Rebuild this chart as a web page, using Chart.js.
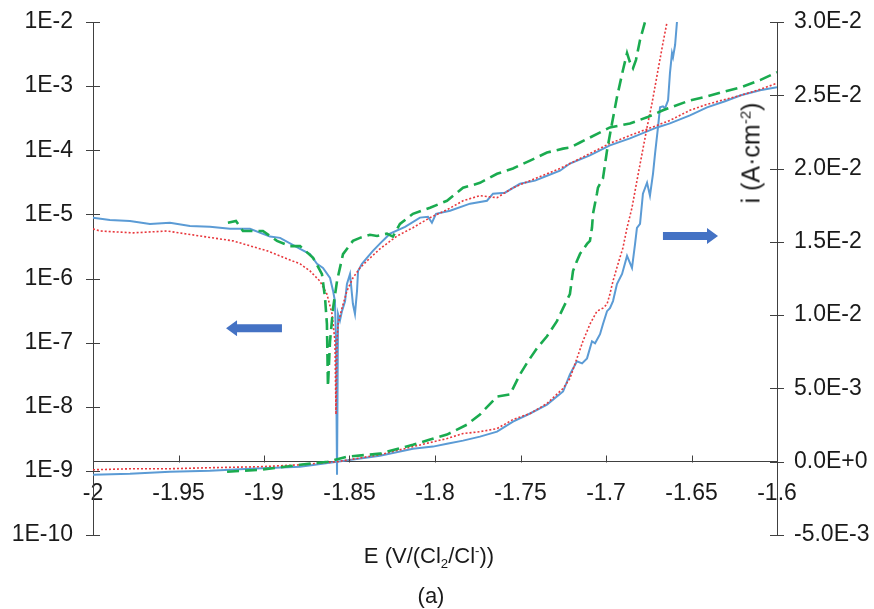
<!DOCTYPE html>
<html lang="en">
<head>
  <meta charset="UTF-8">
  <title>Polarization curves</title>
  <style>
    body { margin: 0; background: #fff; font-family: "Liberation Sans", Arial, sans-serif; color: #1a1a1a; }
    #wrap { position: relative; width: 874px; height: 609px; }
    .lbl { position: absolute; white-space: nowrap; font-size: 22px; line-height: 1; }
    .lbl sub, .lbl sup { font-size: 0.6em; line-height: 0; }
    #xTitle { left: 429px; top: 545px; transform: translateX(-50%); }
    #caption { left: 431px; top: 585px; transform: translateX(-50%); }
    #yTitle { left: 751px; top: 153px; font-size: 25px; transform: translate(-50%, -50%) rotate(-90deg); }
  </style>
  <script src="https://cdn.jsdelivr.net/npm/chart.js"></script>
</head>
<body>

<div id="wrap">
  <canvas id="chart"></canvas>
  <div class="lbl" id="xTitle">E (V/(Cl<sub>2</sub>/Cl<sup>-</sup>))</div>
  <div class="lbl" id="caption">(a)</div>
  <div class="lbl" id="yTitle">i (A·cm<sup>-2</sup>)</div>
</div>

<script>
  // --- data ---
  // log |i| curves (left axis)
  const eBlueLog = [-2.0000, -1.9901, -1.9784, -1.9667, -1.9550, -1.9433, -1.9316, -1.9199, -1.9082, -1.8965, -1.8906, -1.8789, -1.8731, -1.8690, -1.8655, -1.8614, -1.8596, -1.8585, -1.8579, -1.8573, -1.8567, -1.8556, -1.8544, -1.8526, -1.8515, -1.8497, -1.8480, -1.8468, -1.8456, -1.8450, -1.8427, -1.8398, -1.8363, -1.8322, -1.8263, -1.8175, -1.8088, -1.8041, -1.8018, -1.7994, -1.7912, -1.7795, -1.7696, -1.7661, -1.7591, -1.7503, -1.7415, -1.7345, -1.7269, -1.7211, -1.7094, -1.6977, -1.6860, -1.6702, -1.6626, -1.6509, -1.6409, -1.6304, -1.6211, -1.6099, -1.6000];
  const iBlueLog = [8.9e-6, 8.2e-6, 7.9e-6, 7.1e-6, 7.4e-6, 6.6e-6, 6.4e-6, 5.95e-6, 5.95e-6, 4.5e-6, 4.3e-6, 2.9e-6, 2.4e-6, 1.69e-6, 1.46e-6, 1.02e-6, 6.4e-7, 4.4e-7, 1.05e-7, 8.7e-10, 2.8e-7, 2.2e-7, 3.1e-7, 4.4e-7, 8.2e-7, 1.17e-6, 4.0e-7, 2.8e-7, 6.4e-7, 1.31e-6, 1.69e-6, 2.1e-6, 2.7e-6, 3.5e-6, 5.0e-6, 6.4e-6, 8.9e-6, 9.2e-6, 7.4e-6, 1.02e-5, 1.14e-5, 1.47e-5, 1.63e-5, 2.1e-5, 2.18e-5, 3.0e-5, 3.36e-5, 4.0e-5, 4.8e-5, 6.2e-5, 8.3e-5, 1.19e-4, 1.53e-4, 2.27e-4, 2.62e-4, 3.5e-4, 4.67e-4, 5.8e-4, 7.2e-4, 8.6e-4, 9.6e-4];

  const eRedLog = [-2.0000, -1.9959, -1.9766, -1.9567, -1.9374, -1.9181, -1.8982, -1.8789, -1.8731, -1.8673, -1.8632, -1.8602, -1.8585, -1.8579, -1.8573, -1.8567, -1.8544, -1.8515, -1.8480, -1.8439, -1.8398, -1.8322, -1.8222, -1.8129, -1.8029, -1.7930, -1.7836, -1.7737, -1.7637, -1.7544, -1.7444, -1.7345, -1.7269, -1.7211, -1.7094, -1.6977, -1.6860, -1.6702, -1.6626, -1.6509, -1.6409, -1.6304, -1.6211, -1.6099, -1.6000];
  const iRedLog = [5.95e-6, 5.5e-6, 5.15e-6, 5.5e-6, 4.6e-6, 3.86e-6, 2.7e-6, 1.69e-6, 1.31e-6, 9.1e-7, 5.7e-7, 2.8e-7, 1.05e-7, 7.6e-9, 1.05e-7, 1.94e-7, 3.45e-7, 6.4e-7, 1.02e-6, 1.46e-6, 1.88e-6, 2.9e-6, 4.6e-6, 6.2e-6, 8.9e-6, 1.18e-5, 1.63e-5, 1.96e-5, 1.82e-5, 2.6e-5, 3.36e-5, 4.3e-5, 5.2e-5, 6.2e-5, 8.9e-5, 1.28e-4, 1.7e-4, 2.44e-4, 2.92e-4, 4.2e-4, 5.2e-4, 6.2e-4, 7.2e-4, 8.9e-4, 1.11e-3];

  const eGreenLog = [-1.9211, -1.9164, -1.9123, -1.9006, -1.8924, -1.8848, -1.8789, -1.8713, -1.8661, -1.8643, -1.8632, -1.8626, -1.8614, -1.8596, -1.8573, -1.8538, -1.8480, -1.8439, -1.8380, -1.8339, -1.8281, -1.8246, -1.8205, -1.8129, -1.8029, -1.7930, -1.7836, -1.7737, -1.7637, -1.7544, -1.7444, -1.7345, -1.7251, -1.7211, -1.7152, -1.6977, -1.6860, -1.6760, -1.6667, -1.6509, -1.6409, -1.6304, -1.6211, -1.6099, -1.6000];
  const iGreenLog = [7.4e-6, 7.9e-6, 5.5e-6, 5.5e-6, 3.86e-6, 3.2e-6, 3.2e-6, 2.1e-6, 1.17e-6, 5.0e-7, 1.94e-7, 2.07e-8, 1.05e-7, 3.45e-7, 9.1e-7, 2.4e-6, 3.86e-6, 4.3e-6, 4.8e-6, 4.6e-6, 5.0e-6, 4.5e-6, 7.1e-6, 1.02e-5, 1.27e-5, 1.63e-5, 2.6e-5, 3.1e-5, 4.3e-5, 5.2e-5, 6.9e-5, 9.2e-5, 1.06e-4, 1.1e-4, 1.32e-4, 2.27e-4, 2.62e-4, 3.26e-4, 4.2e-4, 6.0e-4, 6.9e-4, 8.3e-4, 9.6e-4, 1.24e-3, 1.65e-3];

  // linear i curves (right axis)
  const eBlueLin = [-2.0000, -1.9784, -1.9550, -1.9316, -1.9082, -1.8789, -1.8573, -1.8322, -1.8129, -1.8012, -1.7930, -1.7836, -1.7737, -1.7637, -1.7544, -1.7444, -1.7345, -1.7251, -1.7211, -1.7170, -1.7140, -1.7111, -1.7082, -1.7064, -1.7035, -1.7018, -1.6994, -1.6977, -1.6959, -1.6936, -1.6906, -1.6877, -1.6848, -1.6830, -1.6819, -1.6801, -1.6784, -1.6760, -1.6743, -1.6725, -1.6713, -1.6696, -1.6684, -1.6667, -1.6655, -1.6637, -1.6626, -1.6614, -1.6608, -1.6596, -1.6585];
  const iBlueLin = [-8.9e-4, -8.2e-4, -6.8e-4, -6.2e-4, -4.8e-4, -3.4e-4, 0, 4.1e-4, 8.9e-4, 1.03e-3, 1.23e-3, 1.44e-3, 1.71e-3, 2.05e-3, 2.74e-3, 3.29e-3, 3.9e-3, 4.79e-3, 5.96e-3, 6.85e-3, 6.71e-3, 7.05e-3, 8.22e-3, 8.08e-3, 8.7e-3, 9.38e-3, 1.027e-2, 1.048e-2, 1.096e-2, 1.212e-2, 1.281e-2, 1.404e-2, 1.322e-2, 1.486e-2, 1.596e-2, 1.623e-2, 1.829e-2, 1.904e-2, 1.815e-2, 1.966e-2, 2.103e-2, 2.281e-2, 2.418e-2, 2.425e-2, 2.411e-2, 2.466e-2, 2.651e-2, 2.788e-2, 2.76e-2, 2.843e-2, 3.0e-2];

  const eRedLin = [-2.0000, -1.9784, -1.9550, -1.9316, -1.9023, -1.8789, -1.8573, -1.8322, -1.8129, -1.7930, -1.7836, -1.7737, -1.7637, -1.7544, -1.7444, -1.7345, -1.7251, -1.7211, -1.7170, -1.7135, -1.7094, -1.7053, -1.7018, -1.6994, -1.6977, -1.6959, -1.6930, -1.6901, -1.6877, -1.6848, -1.6819, -1.6789, -1.6760, -1.6731, -1.6696, -1.6667, -1.6643];
  const iRedLin = [-5.5e-4, -4.8e-4, -4.8e-4, -4.1e-4, -3.4e-4, -2.1e-4, 0, 4.8e-4, 1.03e-3, 1.58e-3, 1.92e-3, 2.05e-3, 2.26e-3, 2.88e-3, 3.29e-3, 3.97e-3, 5.0e-3, 5.68e-3, 7.05e-3, 8.22e-3, 9.38e-3, 1.027e-2, 1.048e-2, 1.075e-2, 1.144e-2, 1.233e-2, 1.349e-2, 1.459e-2, 1.596e-2, 1.733e-2, 1.918e-2, 2.103e-2, 2.281e-2, 2.445e-2, 2.671e-2, 2.856e-2, 3.0e-2];

  const eGreenLin = [-1.9216, -1.9023, -1.8789, -1.8626, -1.8515, -1.8322, -1.8129, -1.8029, -1.7930, -1.7813, -1.7737, -1.7637, -1.7561, -1.7503, -1.7456, -1.7404, -1.7345, -1.7287, -1.7251, -1.7211, -1.7193, -1.7170, -1.7152, -1.7111, -1.7094, -1.7082, -1.7076, -1.7053, -1.7047, -1.7018, -1.6994, -1.6965, -1.6936, -1.6901, -1.6877, -1.6860, -1.6842, -1.6825, -1.6801, -1.6772];
  const iGreenLin = [-6.8e-4, -5.5e-4, -2.1e-4, 0, 3.4e-4, 5.5e-4, 1.16e-3, 1.51e-3, 1.85e-3, 2.53e-3, 3.22e-3, 4.45e-3, 4.59e-3, 5.96e-3, 6.85e-3, 7.74e-3, 8.56e-3, 9.59e-3, 1.048e-2, 1.144e-2, 1.301e-2, 1.37e-2, 1.418e-2, 1.486e-2, 1.507e-2, 1.596e-2, 1.692e-2, 1.829e-2, 1.87e-2, 1.931e-2, 2.123e-2, 2.308e-2, 2.486e-2, 2.671e-2, 2.788e-2, 2.726e-2, 2.685e-2, 2.74e-2, 2.877e-2, 3.0e-2];

  // tick labels
  const xTicks = [-2, -1.95, -1.9, -1.85, -1.8, -1.75, -1.7, -1.65, -1.6];
  const logTicks = [1e-10, 1e-9, 1e-8, 1e-7, 1e-6, 1e-5, 1e-4, 1e-3, 1e-2];
  const linTicks = [-0.005, 0, 0.005, 0.01, 0.015, 0.02, 0.025, 0.03];

  // arrows [E start, E end, axis, value]
  const arrows = [
    [-1.8895, -1.9222, 'yL', 1.68e-7],
    [-1.6667, -1.6345, 'yR', 0.0154]
  ];

  const BLUE = '#5b9bd5', RED = '#e8383d', GREEN = '#1aab4f', AXIS = '#404040';

  function pts(xs, ys) { return xs.map((x, k) => ({ x: x, y: ys[k] })); }

  function sci(v) {
    if (Math.abs(v) < 1e-12) return '0.0E+0';
    const e = Math.floor(Math.log10(Math.abs(v)) + 1e-9);
    const m = v / Math.pow(10, e);
    return m.toFixed(1) + 'E' + (e < 0 ? '-' : '+') + Math.abs(e);
  }

  // y axes: fixed width, and don't let the label padding push the plot down
  function fitY(width) {
    return s => { s.width = width; s.paddingTop = 12; s.paddingBottom = 12; };
  }

  // cross ticks on the y axes, upward ticks on the x axis, and the two arrows
  const extras = {
    id: 'extras',
    afterDraw(chart) {
      const ctx = chart.ctx;
      const sx = chart.scales.x, yL = chart.scales.yL, yR = chart.scales.yR;
      const y0 = Math.round(yR.getPixelForValue(0)) + 0.5;
      ctx.save();
      ctx.strokeStyle = AXIS;
      ctx.lineWidth = 1;
      ctx.beginPath();
      logTicks.forEach(v => {
        const p = Math.round(yL.getPixelForValue(v)) + 0.5;
        ctx.moveTo(yL.right - 7, p); ctx.lineTo(yL.right + 7, p);
      });
      linTicks.forEach(v => {
        const p = Math.round(yR.getPixelForValue(v)) + 0.5;
        ctx.moveTo(yR.left - 7, p); ctx.lineTo(yR.left + 7, p);
      });
      xTicks.forEach(v => {
        const p = Math.round(sx.getPixelForValue(v)) + 0.5;
        ctx.moveTo(p, y0); ctx.lineTo(p, y0 - 7);
      });
      ctx.stroke();

      ctx.fillStyle = '#4472c4';
      arrows.forEach(a => {
        const x1 = sx.getPixelForValue(a[0]), x2 = sx.getPixelForValue(a[1]);
        const y = chart.scales[a[2]].getPixelForValue(a[3]);
        const dir = x2 > x1 ? 1 : -1;
        const hx = x2 - dir * 11;
        ctx.beginPath();
        ctx.moveTo(x1, y - 4);
        ctx.lineTo(hx, y - 4);
        ctx.lineTo(hx, y - 8);
        ctx.lineTo(x2, y);
        ctx.lineTo(hx, y + 8);
        ctx.lineTo(hx, y + 4);
        ctx.lineTo(x1, y + 4);
        ctx.closePath();
        ctx.fill();
      });
      ctx.restore();
    }
  };

  Chart.defaults.font.family = '"Liberation Sans", Arial, sans-serif';
  Chart.defaults.font.size = 23;
  Chart.defaults.color = '#1a1a1a';

  const solid = { borderColor: BLUE, borderWidth: 2 };
  const dotted = { borderColor: RED, borderWidth: 1.6, borderDash: [2, 2] };
  const dashed = { borderColor: GREEN, borderWidth: 2.6, borderDash: [12, 6] };

  new Chart(document.getElementById('chart'), {
    type: 'scatter',
    data: {
      datasets: [
        Object.assign({ data: pts(eGreenLog, iGreenLog), yAxisID: 'yL' }, dashed),
        Object.assign({ data: pts(eGreenLin, iGreenLin), yAxisID: 'yR' }, dashed),
        Object.assign({ data: pts(eRedLog, iRedLog), yAxisID: 'yL' }, dotted),
        Object.assign({ data: pts(eRedLin, iRedLin), yAxisID: 'yR' }, dotted),
        Object.assign({ data: pts(eBlueLog, iBlueLog), yAxisID: 'yL' }, solid),
        Object.assign({ data: pts(eBlueLin, iBlueLin), yAxisID: 'yR' }, solid)
      ].map(d => Object.assign(d, { showLine: true, pointRadius: 0, tension: 0, fill: false }))
    },
    options: {
      responsive: true,
      maintainAspectRatio: false,
      animation: false,
      layout: { padding: { top: 22, bottom: 74, left: 0, right: 0 } },
      plugins: { legend: { display: false }, tooltip: { enabled: false } },
      scales: {
        x: {
          type: 'linear',
          min: -2, max: -1.6,
          position: { yR: 0 },
          afterBuildTicks: s => { s.ticks = xTicks.map(v => ({ value: v })); },
          ticks: { padding: 18, maxRotation: 0, autoSkip: false, callback: v => String(Math.round(v * 100) / 100) },
          grid: { drawOnChartArea: false, drawTicks: false },
          border: { color: AXIS, width: 1 }
        },
        yL: {
          type: 'logarithmic',
          position: 'left',
          min: 1e-10, max: 1e-2,
          afterBuildTicks: s => { s.ticks = logTicks.map(v => ({ value: v })); },
          afterFit: fitY(93),
          ticks: { padding: 20, autoSkip: false, callback: v => '1E' + Math.round(Math.log10(v)) },
          grid: { drawOnChartArea: false, drawTicks: false },
          border: { color: AXIS, width: 1 }
        },
        yR: {
          type: 'linear',
          position: 'right',
          min: -0.005, max: 0.03,
          afterBuildTicks: s => { s.ticks = linTicks.map(v => ({ value: v })); },
          afterFit: fitY(97),
          ticks: { padding: 17, autoSkip: false, callback: v => sci(v) },
          grid: { drawOnChartArea: false, drawTicks: false },
          border: { color: AXIS, width: 1 }
        }
      }
    },
    plugins: [extras]
  });
</script>

</body>
</html>
